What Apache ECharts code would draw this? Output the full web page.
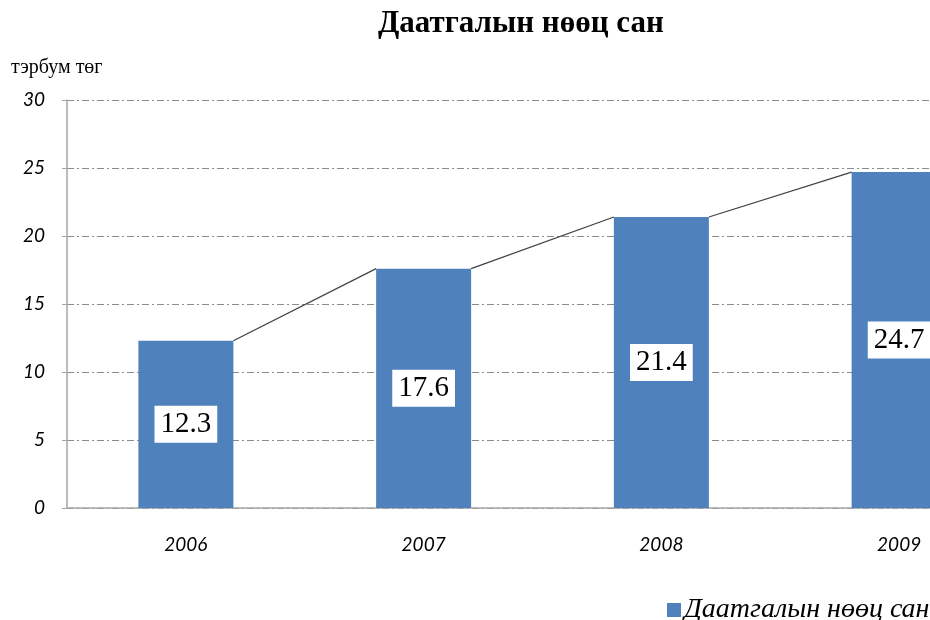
<!DOCTYPE html>
<html>
<head>
<meta charset="utf-8">
<script src="https://cdn.jsdelivr.net/npm/echarts@6/dist/echarts.min.js"></script>
<style>
  html, body { margin: 0; padding: 0; background: #fff; overflow: hidden; }
  #chart { width: 1020px; height: 620px; }
</style>
</head>
<body>
<div id="chart"></div>
<script>
const years = ['2006', '2007', '2008', '2009']
const reserves = [12.3, 17.6, 21.4, 24.7]
const seriesName = 'Даатгалын нөөц сан'
const yTicks = [0, 5, 10, 15, 20, 25, 30]

const barWidth = 95
const chart = echarts.init(document.getElementById('chart'))

// the plot runs past the right edge of the 930px window, like the original
chart.setOption({
  animation: false,
  title: {
    text: 'Даатгалын нөөц сан',
    left: 373,
    top: 3,
    textStyle: { fontFamily: 'Liberation Serif', fontSize: 31, fontWeight: 'bold', color: '#000' }
  },
  legend: {
    data: [seriesName],
    left: 662,
    top: 591,
    icon: 'rect',
    itemWidth: 14,
    itemHeight: 14,
    itemGap: 4,
    textStyle: { fontFamily: 'Liberation Serif', fontStyle: 'italic', fontSize: 28, color: '#000', padding: [0, 0, 0, -2] }
  },
  grid: { left: 67, top: 100, width: 951, height: 408, containLabel: false },
  xAxis: {
    type: 'category',
    data: years,
    axisLine: { lineStyle: { color: '#a6a6a6', width: 1.5 } },
    axisTick: { show: false },
    axisLabel: { fontFamily: 'Lato', fontStyle: 'italic', fontSize: 19, color: '#000', margin: 27 }
  },
  yAxis: {
    type: 'value',
    min: 0,
    max: 30,
    interval: 5,
    name: 'тэрбум төг',
    nameLocation: 'end',
    nameGap: 22,
    nameTextStyle: { fontFamily: 'Liberation Serif', fontSize: 20, color: '#000', align: 'left', padding: [0, 0, 0, -56] },
    axisLine: { show: true, lineStyle: { color: '#a6a6a6', width: 1.5 } },
    axisTick: { show: true, length: 5, lineStyle: { color: '#a6a6a6' } },
    axisLabel: {
      fontFamily: 'Lato', fontStyle: 'italic', fontSize: 19, color: '#000', margin: 22,
      formatter: v => yTicks.includes(v) ? String(v) : ''
    },
    splitLine: { lineStyle: { color: '#8c8c8c', width: 1, type: [7, 3, 2, 3] } }
  },
  series: [
    {
      name: seriesName,
      type: 'bar',
      data: reserves,
      barWidth: barWidth,
      itemStyle: { color: '#4f81bd' },
      label: {
        show: true,
        position: 'inside',
        formatter: p => p.value.toFixed(1),
        fontFamily: 'Liberation Serif',
        fontSize: 29,
        color: '#000',
        backgroundColor: '#fff',
        padding: [5, 6, 3, 6]
      },
      z: 3
    },
    {
      name: 'connector',
      type: 'custom',
      data: reserves.slice(0, -1).map((v, i) => [i, v, reserves[i + 1]]),
      renderItem: (params, api) => {
        const i = api.value(0)
        const a = api.coord([i, api.value(1)])
        const b = api.coord([i + 1, api.value(2)])
        return {
          type: 'line',
          shape: { x1: a[0] + barWidth / 2, y1: a[1], x2: b[0] - barWidth / 2, y2: b[1] },
          style: { stroke: '#404040', lineWidth: 1.2 }
        }
      },
      silent: true,
      z: 4
    }
  ]
})
</script>
</body>
</html>
